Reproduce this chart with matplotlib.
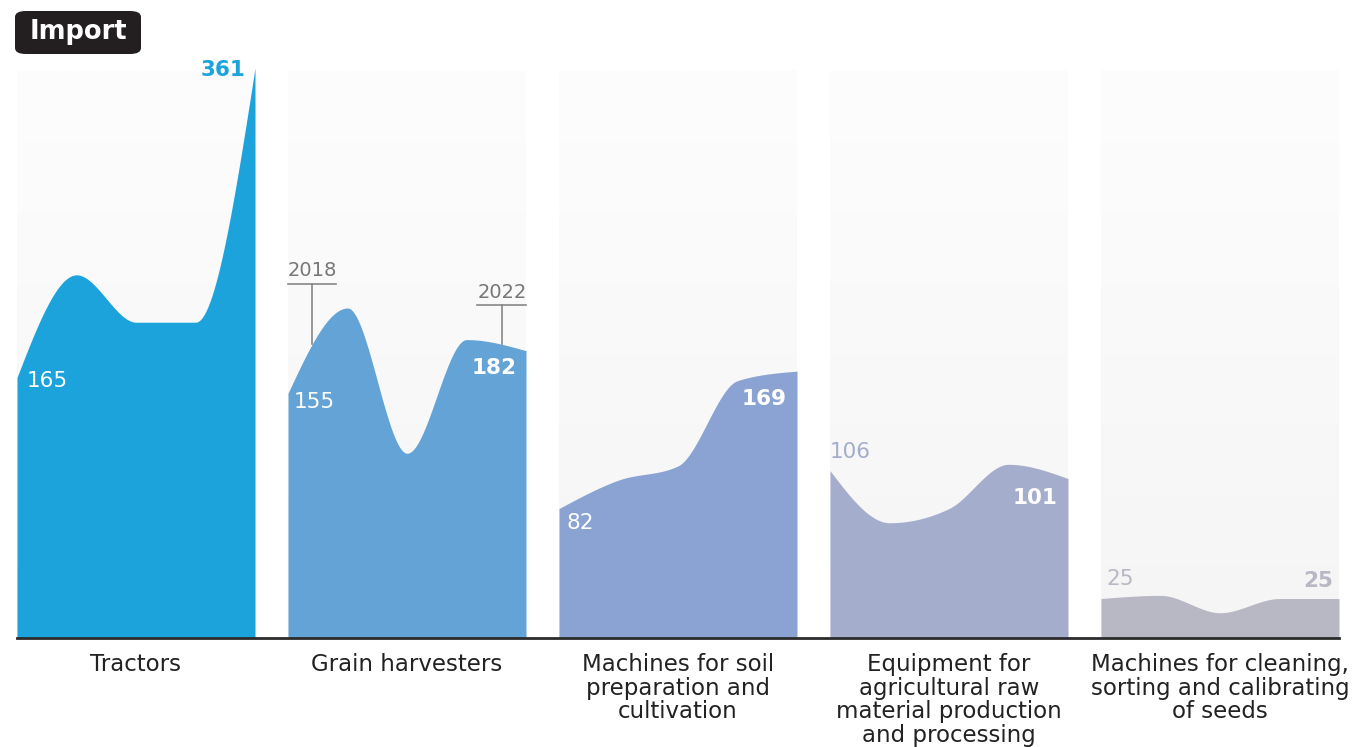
import numpy as np
import matplotlib
matplotlib.use("Agg")
import matplotlib.pyplot as plt
from matplotlib.patches import FancyBboxPatch
from matplotlib.lines import Line2D

# data (units, 2018-2022)
years = [2018, 2019, 2020, 2021, 2022]
categories = [
    "Tractors",
    "Grain harvesters",
    "Machines for soil\npreparation and\ncultivation",
    "Equipment for\nagricultural raw\nmaterial production\nand processing",
    "Machines for cleaning,\nsorting and calibrating\nof seeds",
]
tractors = [165, 230, 200, 200, 361]
harvesters = [155, 209, 117, 189, 182]
soil = [82, 100, 109, 163, 169]
equipment = [106, 73, 82, 110, 101]
seeds = [25, 27, 16, 25, 25]
series = [tractors, harvesters, soil, equipment, seeds]

colors = ["#1ca3dc", "#64a3d6", "#8ba3d3", "#a4adcb", "#b8b7c4"]

# label placement per panel: (dx, dy) in px for first / last value, and whether inside (white)
start_pos = [(10, -4, True), (6, -9, True), (7, -14, True), (0, 19, False), (5, 20, False)]
end_pos = [(-10, -2, False), (-9, -17, True), (-10, -28, True), (-11, -19, True), (-6, 18, False)]


def monotone(x, y, n=60):
    # monotone cubic (Steffen), like d3.curveMonotoneX
    x = np.asarray(x, float)
    y = np.asarray(y, float)
    h = np.diff(x)
    s = np.diff(y) / h
    t = np.zeros(len(x))
    for i in range(1, len(x) - 1):
        p = (s[i - 1] * h[i] + s[i] * h[i - 1]) / (h[i - 1] + h[i])
        t[i] = (np.sign(s[i - 1]) + np.sign(s[i])) * min(abs(s[i - 1]), abs(s[i]), 0.5 * abs(p))
    t[0] = (3 * s[0] - t[1]) / 2
    t[-1] = (3 * s[-1] - t[-2]) / 2
    xs, ys = [], []
    for i in range(len(x) - 1):
        u = np.linspace(0, 1, n)
        h00 = 2 * u**3 - 3 * u**2 + 1
        h10 = u**3 - 2 * u**2 + u
        h01 = -2 * u**3 + 3 * u**2
        h11 = u**3 - u**2
        xs.append(x[i] + u * h[i])
        ys.append(h00 * y[i] + h10 * h[i] * t[i] + h01 * y[i + 1] + h11 * h[i] * t[i + 1])
    return np.concatenate(xs), np.concatenate(ys)


W, H = 1358, 747
fig = plt.figure(figsize=(W / 100, H / 100), dpi=100)
plt.rcParams["font.family"] = ["DejaVu Sans"]
px = 0.72  # points per pixel

base_y = 638
top_y = 68
ymax = max(tractors)

grad = np.linspace(0, 1, 256).reshape(-1, 1)
bg_cmap = matplotlib.colors.LinearSegmentedColormap.from_list("bg", ["#f5f5f6", "#fdfdfd"])

for i, vals in enumerate(series):
    left = 17 + 271 * i
    ax = fig.add_axes([left / W, (H - base_y) / H, 238 / W, (base_y - top_y) / H])
    ax.set_xlim(years[0], years[-1])
    ax.set_ylim(0, ymax)
    ax.imshow(grad, cmap=bg_cmap, aspect="auto", origin="lower",
              extent=[years[0], years[-1], 0, ymax * 0.995], zorder=0)
    xs, ys = monotone(years, vals)
    ax.fill_between(xs, 0, ys, color=colors[i], lw=0, zorder=2)
    ax.axis("off")

    dx, dy, inside = start_pos[i]
    ax.annotate(str(vals[0]), (years[0], vals[0]), xytext=(dx * px, dy * px),
                textcoords="offset points", ha="left", va="center", fontsize=15.5,
                color="white" if inside else colors[i], zorder=5, annotation_clip=False)
    dx, dy, inside = end_pos[i]
    ax.annotate(str(vals[-1]), (years[-1], vals[-1]), xytext=(dx * px, dy * px),
                textcoords="offset points", ha="right", va="center", fontsize=15.5,
                fontweight="bold", color="white" if inside else colors[i], zorder=5,
                annotation_clip=False)

    fig.text((left + 119) / W, (H - 653) / H, categories[i], ha="center", va="top",
             fontsize=16.5, color="#222222", linespacing=1.03)

    if i == 1:
        # year markers
        for yr, lx, ty, uy, x0, x1 in [(years[0], 312, 271, 284, 288, 336),
                                       (years[-1], 502, 293, 305, 477, 526)]:
            fig.text(lx / W, (H - ty) / H, str(yr), ha="center", va="center",
                     fontsize=14, color="#777777")
            fig.add_artist(Line2D([x0 / W, x1 / W], [(H - uy) / H, (H - uy) / H],
                                  color="#888888", lw=1.2))
            xv = years[0] + (lx - left) / 238 * (years[-1] - years[0])
            xx, yy = monotone(years, vals)
            ycurve = np.interp(xv, xx, yy)
            ycurve_px = base_y - ycurve / ymax * (base_y - top_y)
            fig.add_artist(Line2D([lx / W, lx / W], [(H - uy) / H, (H - ycurve_px) / H],
                                  color="#888888", lw=1.2, zorder=6))

# baseline
fig.add_artist(Line2D([17 / W, 1339 / W], [(H - base_y) / H] * 2, color="#2b2b2b", lw=2))

# "Import" badge
badge = FancyBboxPatch((15 / W, (H - 54) / H), 126 / W, 43 / H,
                       boxstyle="round,pad=0,rounding_size=0.008",
                       transform=fig.transFigure, facecolor="#231f20", edgecolor="none")
fig.add_artist(badge)
fig.text(78 / W, (H - 32) / H, "Import", ha="center", va="center", fontsize=18.5,
         fontweight="bold", color="white")

fig.savefig("out.png", dpi=100, facecolor="white")
